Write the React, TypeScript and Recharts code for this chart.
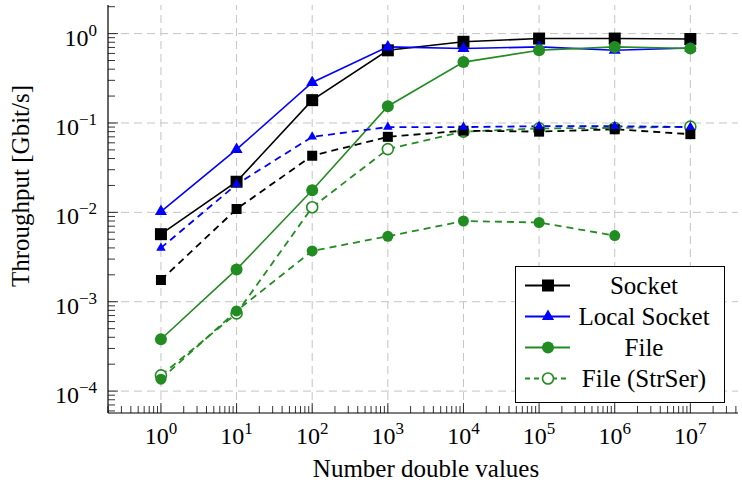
import { LineChart, Line, XAxis, YAxis, ReferenceLine, Legend, Label } from 'recharts';

// measured points, x = number of double values
const xValues = [1, 10, 100, 1e3, 1e4, 1e5, 1e6, 1e7];
const socket = [0.0057, 0.022, 0.18, 0.65, 0.81, 0.88, 0.88, 0.87];
const localSocket = [0.0102, 0.0506, 0.284, 0.71, 0.68, 0.71, 0.65, 0.69];
const file = [0.00038, 0.0023, 0.0177, 0.154, 0.48, 0.65, 0.71, 0.68];
const fileStrSer = [0.00015, 0.00074, 0.0114, 0.051, 0.08, 0.087, 0.088, 0.091];
const socketDashed = [0.00175, 0.0109, 0.043, 0.07, 0.082, 0.08, 0.085, 0.075];
const localSocketDashed = [0.004, 0.0206, 0.07, 0.09, 0.09, 0.092, 0.092, 0.09];
const fileDashed = [0.000136, 0.00079, 0.0037, 0.0054, 0.008, 0.0077, 0.0055, null];

const xMajorExp = [0, 1, 2, 3, 4, 5, 6, 7];
const yMajorExp = [-4, -3, -2, -1, 0];
const legendNames = ['Socket', 'Local Socket', 'File', 'File (StrSer)'];

const X_DOMAIN = [Math.pow(10, -0.7), Math.pow(10, 7.63)];
const Y_DOMAIN = [Math.pow(10, -4.245), Math.pow(10, 0.32)];

const GREEN = '#228b22';
const BLUE = '#0000ff';
const FONT = "'Liberation Serif', 'DejaVu Serif', serif";
const DASH = '7 5';

const data = xValues.map((x, i) => ({
    x,
    socket: socket[i],
    localSocket: localSocket[i],
    file: file[i],
    fileStrSer: fileStrSer[i],
    socketDashed: socketDashed[i],
    localSocketDashed: localSocketDashed[i],
    fileDashed: fileDashed[i],
}));

function logTicks(domain: number[]) {
    const out: number[] = [];
    const lo = Math.floor(Math.log10(domain[0]));
    const hi = Math.ceil(Math.log10(domain[1]));
    for (let k = lo; k <= hi; k++) {
        for (let m = 1; m <= 9; m++) {
            const v = m * Math.pow(10, k);
            if (v >= domain[0] * 0.999 && v <= domain[1] * 1.001) out.push(v);
        }
    }
    return out;
}
const xTicks = logTicks(X_DOMAIN);
const yTicks = logTicks(Y_DOMAIN);

const isMajor = (v: number) => Math.abs(Math.log10(v) - Math.round(Math.log10(v))) < 1e-6;
const expText = (v: number) => {
    const e = Math.round(Math.log10(v));
    return e < 0 ? '\u2212' + Math.abs(e) : String(e);
};

function Pow({ x, y, v, anchor }: any) {
    return (
        <text x={x} y={y} textAnchor={anchor} fontSize={24} style={{ fontFamily: FONT }} fill="#000">
            10<tspan dy={-10} fontSize={17}>{expText(v)}</tspan>
        </text>
    );
}

function BottomTick({ x, y, payload }: any) {
    const major = isMajor(payload.value);
    return (
        <g>
            <line x1={x} y1={y} x2={x} y2={y - (major ? 10 : 7)} stroke="#000" strokeWidth={0.8} />
            {major && <Pow x={x} y={y + 31} v={payload.value} anchor="middle" />}
        </g>
    );
}

function TopTick({ x, y, payload }: any) {
    const major = isMajor(payload.value);
    return <line x1={x} y1={y} x2={x} y2={y + (major ? 10 : 7)} stroke="#000" strokeWidth={0.8} />;
}

function LeftTick({ x, y, payload }: any) {
    const major = isMajor(payload.value);
    return (
        <g>
            <line x1={x} y1={y} x2={x + (major ? 10 : 7)} y2={y} stroke="#000" strokeWidth={0.8} />
            {major && <Pow x={x - 11} y={y + 12} v={payload.value} anchor="end" />}
        </g>
    );
}

function RightTick({ x, y, payload }: any) {
    const major = isMajor(payload.value);
    return <line x1={x} y1={y} x2={x - (major ? 10 : 7)} y2={y} stroke="#000" strokeWidth={0.8} />;
}

function markSquare(color: string, s: number) {
    return (p: any) =>
        p.cx == null || p.cy == null ? <g key={p.index} /> : (
            <rect key={p.index} x={p.cx - s / 2} y={p.cy - s / 2} width={s} height={s} fill={color} />
        );
}
function markTriangle(color: string, r: number) {
    return (p: any) => {
        if (p.cx == null || p.cy == null) return <g key={p.index} />;
        const pts = `${p.cx},${p.cy - r} ${p.cx - r * 0.866},${p.cy + r / 2} ${p.cx + r * 0.866},${p.cy + r / 2}`;
        return <polygon key={p.index} points={pts} fill={color} />;
    };
}
function markCircle(color: string, r: number, open = false) {
    return (p: any) =>
        p.cx == null || p.cy == null ? <g key={p.index} /> : (
            <circle key={p.index} cx={p.cx} cy={p.cy} r={r} fill={open ? '#fff' : color} stroke={color} strokeWidth={open ? 1.6 : 0} />
        );
}

const legendSamples = [
    { color: '#000', dashed: false, mark: 'square' },
    { color: BLUE, dashed: false, mark: 'triangle' },
    { color: GREEN, dashed: false, mark: 'circle' },
    { color: GREEN, dashed: true, mark: 'open' },
];

function LegendBox() {
    return (
        <div style={{ border: '1px solid #000', background: '#fff', width: 208, height: 132, paddingTop: 3, boxSizing: 'content-box' }}>
            {legendNames.map((name, i) => {
                const s = legendSamples[i];
                return (
                    <div key={name} style={{ display: 'flex', alignItems: 'center', height: 31 }}>
                        <svg width={56} height={31}>
                            <line x1={9} y1={15.5} x2={54} y2={15.5} stroke={s.color} strokeWidth={1.8} strokeDasharray={s.dashed ? '5 4' : undefined} />
                            {s.mark === 'square' && <rect x={26} y={9.5} width={12} height={12} fill={s.color} />}
                            {s.mark === 'triangle' && <polygon points="32,8.5 25.9,19 38.1,19" fill={s.color} />}
                            {s.mark === 'circle' && <circle cx={32} cy={15.5} r={6} fill={s.color} />}
                            {s.mark === 'open' && <circle cx={32} cy={15.5} r={5.5} fill="#fff" stroke={s.color} strokeWidth={1.6} />}
                        </svg>
                        <span style={{ width: 144, textAlign: 'center', fontSize: 25, fontFamily: FONT, color: '#000', lineHeight: '31px' }}>{name}</span>
                    </div>
                );
            })}
        </div>
    );
}

export default function App() {
    return (
        <div style={{ position: 'absolute', left: 0, top: 0, background: '#fff', fontFamily: FONT }}>
            <LineChart width={742} height={483} data={data} margin={{ top: 5, right: 4, bottom: 10, left: 8 }} style={{ fontFamily: FONT }}>
                {xMajorExp.map((e) => (
                    <ReferenceLine key={'gx' + e} x={Math.pow(10, e)} stroke="#c4c4c4" strokeDasharray="8 5" strokeWidth={1} />
                ))}
                {yMajorExp.map((e) => (
                    <ReferenceLine key={'gy' + e} y={Math.pow(10, e)} stroke="#c4c4c4" strokeDasharray="8 5" strokeWidth={1} />
                ))}
                <XAxis
                    dataKey="x"
                    type="number"
                    scale="log"
                    domain={X_DOMAIN}
                    allowDataOverflow
                    ticks={xTicks}
                    interval={0}
                    tick={<BottomTick />}
                    tickLine={false}
                    tickSize={0}
                    tickMargin={0}
                    height={60}
                    axisLine={{ stroke: '#000', strokeWidth: 1.2 }}
                >
                    <Label
                        content={({ viewBox }: any) => (
                            <text x={viewBox.x + viewBox.width / 2 + 3} y={viewBox.y + 64} textAnchor="middle" fontSize={25} style={{ fontFamily: FONT }} fill="#000">
                                Number double values
                            </text>
                        )}
                    />
                </XAxis>
                <XAxis
                    xAxisId="top"
                    orientation="top"
                    type="number"
                    scale="log"
                    domain={X_DOMAIN}
                    allowDataOverflow
                    ticks={xTicks}
                    interval={0}
                    tick={<TopTick />}
                    tickLine={false}
                    tickSize={0}
                    tickMargin={0}
                    height={0}
                    axisLine={{ stroke: '#000', strokeWidth: 1.2 }}
                />
                <YAxis
                    type="number"
                    scale="log"
                    domain={Y_DOMAIN}
                    allowDataOverflow
                    ticks={yTicks}
                    interval={0}
                    tick={<LeftTick />}
                    tickLine={false}
                    tickSize={0}
                    tickMargin={0}
                    width={100}
                    axisLine={{ stroke: '#000', strokeWidth: 1.2 }}
                >
                    <Label
                        content={() => (
                            <text x={20} y={186} transform="rotate(-90 20 186)" textAnchor="middle" dominantBaseline="central" fontSize={25} style={{ fontFamily: FONT }} fill="#000">
                                Throughput [Gbit/s]
                            </text>
                        )}
                    />
                </YAxis>
                <YAxis
                    yAxisId="right"
                    orientation="right"
                    type="number"
                    scale="log"
                    domain={Y_DOMAIN}
                    allowDataOverflow
                    ticks={yTicks}
                    interval={0}
                    tick={<RightTick />}
                    tickLine={false}
                    tickSize={0}
                    tickMargin={0}
                    width={0}
                    axisLine={{ stroke: '#000', strokeWidth: 1.2 }}
                />
                <Line dataKey="socket" stroke="#000" strokeWidth={1.6} dot={markSquare('#000', 12)} activeDot={false} isAnimationActive={false} />
                <Line dataKey="localSocket" stroke={BLUE} strokeWidth={1.6} dot={markTriangle(BLUE, 7)} activeDot={false} isAnimationActive={false} />
                <Line dataKey="file" stroke={GREEN} strokeWidth={1.6} dot={markCircle(GREEN, 6)} activeDot={false} isAnimationActive={false} />
                <Line dataKey="fileStrSer" stroke={GREEN} strokeWidth={1.8} strokeDasharray={DASH} dot={markCircle(GREEN, 5.5, true)} activeDot={false} isAnimationActive={false} />
                <Line dataKey="socketDashed" stroke="#000" strokeWidth={1.8} strokeDasharray={DASH} dot={markSquare('#000', 10)} activeDot={false} isAnimationActive={false} />
                <Line dataKey="localSocketDashed" stroke={BLUE} strokeWidth={1.8} strokeDasharray={DASH} dot={markTriangle(BLUE, 5.5)} activeDot={false} isAnimationActive={false} />
                <Line dataKey="fileDashed" stroke={GREEN} strokeWidth={1.8} strokeDasharray={DASH} dot={markCircle(GREEN, 5.5)} activeDot={false} isAnimationActive={false} />
                <Legend
                    layout="horizontal"
                    verticalAlign="middle"
                    align="center"
                    content={() => <LegendBox />}
                    wrapperStyle={{ position: 'absolute', left: 515, top: 266, width: 210, height: 138 }}
                />
            </LineChart>
        </div>
    );
}
